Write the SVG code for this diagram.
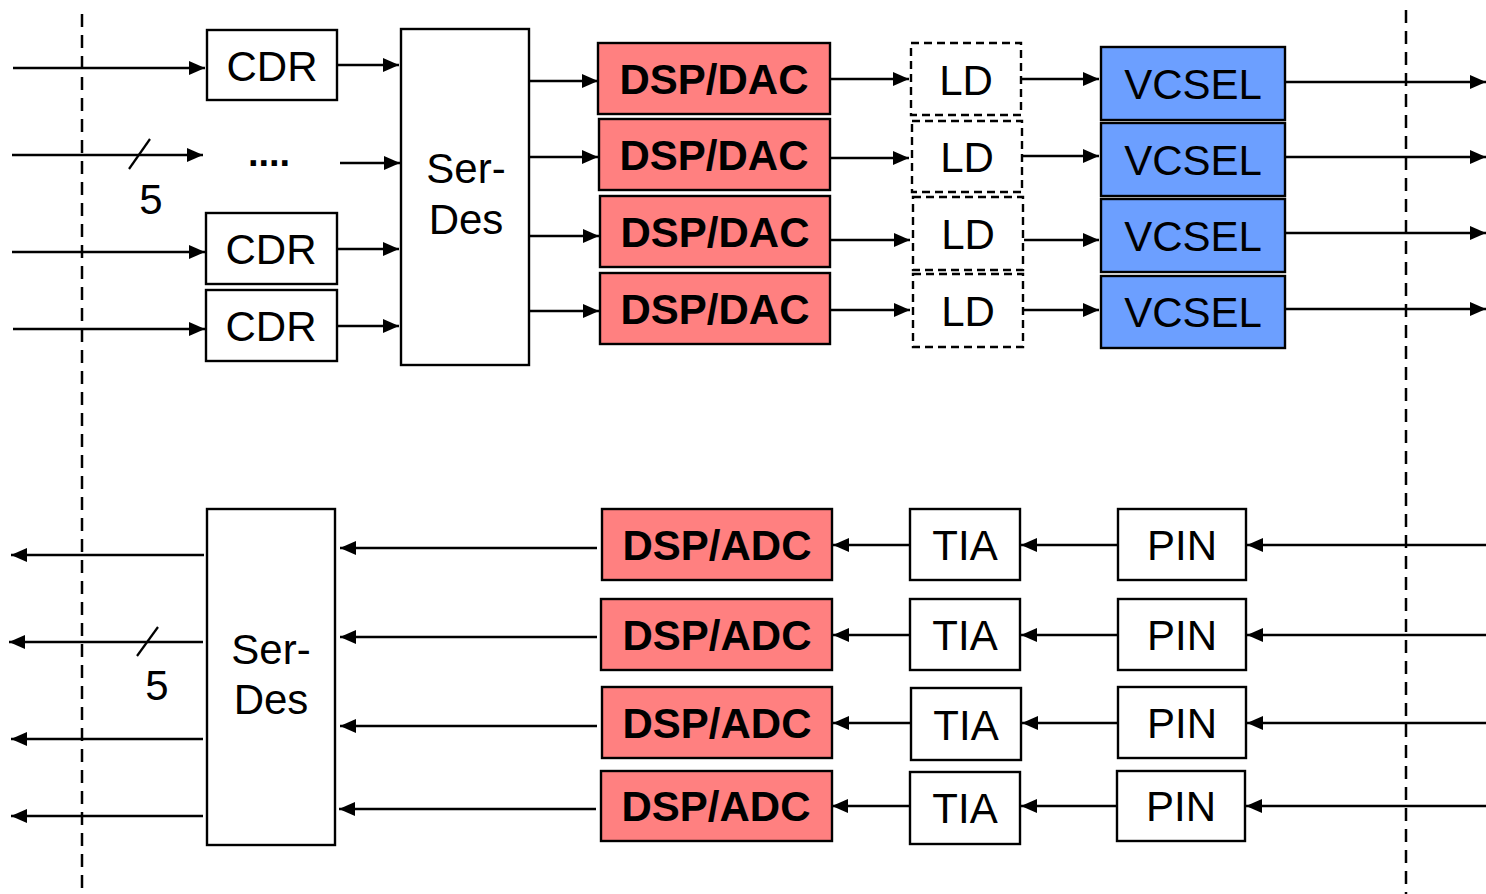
<svg xmlns="http://www.w3.org/2000/svg" width="1486" height="894" viewBox="0 0 1486 894">
<style>
.box{fill:#fff;stroke:#000;stroke-width:2.4}
.dsp{fill:#FF8080;stroke:#000;stroke-width:2.4}
.vc{fill:#6C9FFF;stroke:#000;stroke-width:2.4}
.ld{fill:#fff;stroke:#000;stroke-width:2.4;stroke-dasharray:8 5}
.t{font-family:"Liberation Sans",Arial,sans-serif;font-size:42px;text-anchor:middle;fill:#000}
.b{font-weight:bold}
.c line{stroke:#000;stroke-width:2.5;marker-end:url(#ah)}
.dash{stroke:#000;stroke-width:2.5;stroke-dasharray:13 8}
.sl{stroke:#000;stroke-width:2.2}
</style>
<defs>
<marker id="ah" markerUnits="userSpaceOnUse" markerWidth="18" markerHeight="16" refX="16" refY="7" orient="auto">
<path d="M0,0 L16,7 L0,14 z" fill="#000"/>
</marker>
</defs>
<g id="boundaries">
<line class="dash" x1="82" y1="14" x2="82" y2="894"/>
<line class="dash" x1="1406" y1="10" x2="1406" y2="894"/>
</g>
<g id="connectors" class="c">
<line x1="13" y1="68" x2="205" y2="68"/>
<line x1="12" y1="155" x2="203" y2="155"/>
<line x1="12" y1="252" x2="205" y2="252"/>
<line x1="13" y1="329" x2="205" y2="329"/>
<line x1="340" y1="163" x2="400" y2="163"/>
<line x1="338" y1="65" x2="399" y2="65"/>
<line x1="338" y1="249" x2="399" y2="249"/>
<line x1="338" y1="326" x2="399" y2="326"/>
<line x1="530" y1="81" x2="598" y2="81"/>
<line x1="530" y1="157" x2="598" y2="157"/>
<line x1="530" y1="236" x2="599" y2="236"/>
<line x1="530" y1="311" x2="599" y2="311"/>
<line x1="831" y1="79" x2="909" y2="79"/>
<line x1="831" y1="158" x2="909" y2="158"/>
<line x1="831" y1="240" x2="910" y2="240"/>
<line x1="831" y1="310" x2="910" y2="310"/>
<line x1="1022" y1="79" x2="1099" y2="79"/>
<line x1="1023" y1="156" x2="1099" y2="156"/>
<line x1="1024" y1="240" x2="1099" y2="240"/>
<line x1="1024" y1="310" x2="1099" y2="310"/>
<line x1="1286" y1="82" x2="1486" y2="82"/>
<line x1="1286" y1="157" x2="1486" y2="157"/>
<line x1="1286" y1="233" x2="1486" y2="233"/>
<line x1="1286" y1="309" x2="1486" y2="309"/>
<line x1="204" y1="555" x2="11" y2="555"/>
<line x1="203" y1="642" x2="9" y2="642"/>
<line x1="203" y1="739" x2="11" y2="739"/>
<line x1="203" y1="816" x2="11" y2="816"/>
<line x1="597" y1="548" x2="340" y2="548"/>
<line x1="597" y1="637" x2="340" y2="637"/>
<line x1="597" y1="726" x2="340" y2="726"/>
<line x1="596" y1="809" x2="339" y2="809"/>
<line x1="910" y1="545" x2="833" y2="545"/>
<line x1="910" y1="635" x2="833" y2="635"/>
<line x1="911" y1="723" x2="833" y2="723"/>
<line x1="910" y1="806" x2="832" y2="806"/>
<line x1="1118" y1="545" x2="1021" y2="545"/>
<line x1="1118" y1="635" x2="1021" y2="635"/>
<line x1="1118" y1="723" x2="1022" y2="723"/>
<line x1="1117" y1="806" x2="1021" y2="806"/>
<line x1="1486" y1="545" x2="1247" y2="545"/>
<line x1="1486" y1="635" x2="1247" y2="635"/>
<line x1="1486" y1="723" x2="1247" y2="723"/>
<line x1="1486" y1="806" x2="1246" y2="806"/>
</g>
<g id="bus-top">
<line class="sl" x1="129" y1="169" x2="150" y2="139"/>
<text class="t" x="151" y="214">5</text>
<text class="t b" x="269" y="166" style="font-size:38px">....</text>
</g>
<g id="bus-bottom">
<line class="sl" x1="137" y1="656" x2="158" y2="627"/>
<text class="t" x="157" y="700">5</text>
</g>
<g id="cdr1"><rect class="box" x="207" y="30" width="130" height="70"/><text class="t" x="272" y="81">CDR</text></g>
<g id="cdr2"><rect class="box" x="206" y="213" width="131" height="71"/><text class="t" x="271" y="264">CDR</text></g>
<g id="cdr3"><rect class="box" x="206" y="290" width="131" height="71"/><text class="t" x="271" y="341">CDR</text></g>
<g id="serdes-tx"><rect class="box" x="401" y="29" width="128" height="336"/><text class="t" x="466" y="183">Ser-</text><text class="t" x="466" y="234">Des</text></g>
<g id="dac1"><rect class="dsp" x="598" y="43" width="232" height="71"/><text class="t b" x="714" y="94">DSP/DAC</text></g>
<g id="dac2"><rect class="dsp" x="599" y="119" width="231" height="71"/><text class="t b" x="714" y="170">DSP/DAC</text></g>
<g id="dac3"><rect class="dsp" x="600" y="196" width="230" height="71"/><text class="t b" x="715" y="247">DSP/DAC</text></g>
<g id="dac4"><rect class="dsp" x="600" y="273" width="230" height="71"/><text class="t b" x="715" y="324">DSP/DAC</text></g>
<g id="ld1"><rect class="ld" x="911" y="43" width="110" height="72"/><text class="t" x="966" y="95">LD</text></g>
<g id="ld2"><rect class="ld" x="912" y="121" width="110" height="71"/><text class="t" x="967" y="172">LD</text></g>
<g id="ld3"><rect class="ld" x="913" y="197" width="110" height="73"/><text class="t" x="968" y="249">LD</text></g>
<g id="ld4"><rect class="ld" x="913" y="274" width="110" height="73"/><text class="t" x="968" y="326">LD</text></g>
<g id="vcsel1"><rect class="vc" x="1101" y="47" width="184" height="73"/><text class="t" x="1193" y="99">VCSEL</text></g>
<g id="vcsel2"><rect class="vc" x="1101" y="123" width="184" height="73"/><text class="t" x="1193" y="175">VCSEL</text></g>
<g id="vcsel3"><rect class="vc" x="1101" y="199" width="184" height="73"/><text class="t" x="1193" y="251">VCSEL</text></g>
<g id="vcsel4"><rect class="vc" x="1101" y="276" width="184" height="72"/><text class="t" x="1193" y="327">VCSEL</text></g>
<g id="serdes-rx"><rect class="box" x="207" y="509" width="128" height="336"/><text class="t" x="271" y="664">Ser-</text><text class="t" x="271" y="714">Des</text></g>
<g id="adc1"><rect class="dsp" x="602" y="509" width="230" height="71"/><text class="t b" x="717" y="560">DSP/ADC</text></g>
<g id="adc2"><rect class="dsp" x="601" y="599" width="231" height="71"/><text class="t b" x="717" y="650">DSP/ADC</text></g>
<g id="adc3"><rect class="dsp" x="602" y="687" width="230" height="71"/><text class="t b" x="717" y="738">DSP/ADC</text></g>
<g id="adc4"><rect class="dsp" x="601" y="771" width="231" height="70"/><text class="t b" x="716" y="821">DSP/ADC</text></g>
<g id="tia1"><rect class="box" x="910" y="509" width="110" height="71"/><text class="t" x="965" y="560">TIA</text></g>
<g id="tia2"><rect class="box" x="910" y="599" width="110" height="71"/><text class="t" x="965" y="650">TIA</text></g>
<g id="tia3"><rect class="box" x="911" y="688" width="110" height="72"/><text class="t" x="966" y="740">TIA</text></g>
<g id="tia4"><rect class="box" x="910" y="772" width="110" height="72"/><text class="t" x="965" y="823">TIA</text></g>
<g id="pin1"><rect class="box" x="1118" y="509" width="128" height="71"/><text class="t" x="1182" y="560">PIN</text></g>
<g id="pin2"><rect class="box" x="1118" y="599" width="128" height="71"/><text class="t" x="1182" y="650">PIN</text></g>
<g id="pin3"><rect class="box" x="1118" y="687" width="128" height="71"/><text class="t" x="1182" y="738">PIN</text></g>
<g id="pin4"><rect class="box" x="1117" y="771" width="128" height="70"/><text class="t" x="1181" y="821">PIN</text></g>
</svg>
